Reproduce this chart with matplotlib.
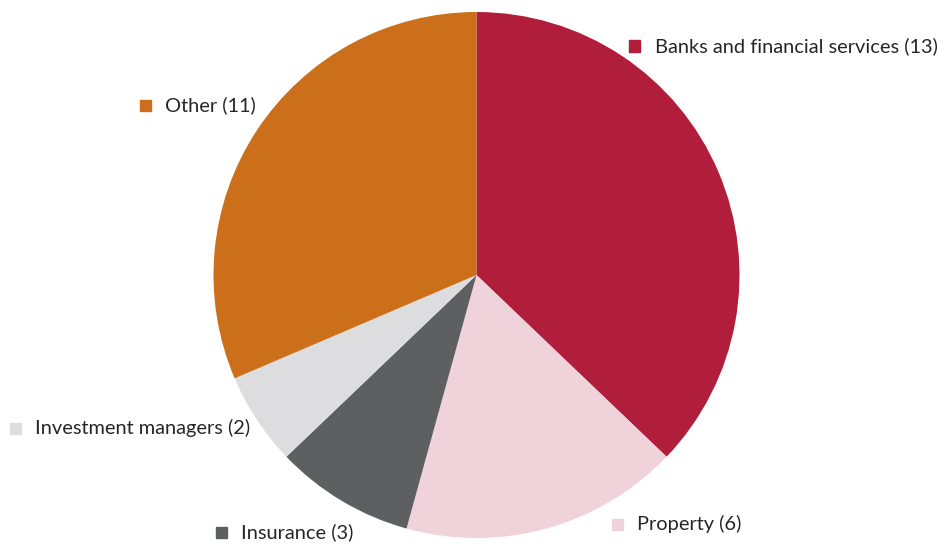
import matplotlib.pyplot as plt

# data
labels = ['Banks and financial services (13)', 'Property (6)', 'Insurance (3)',
          'Investment managers (2)', 'Other (11)']
values = [13, 6, 3, 2, 11]
colors = ['#B01E3C', '#F0D3DA', '#5E5F61', '#DDDDDF', '#CC6F1A']

# label positions in pixels (marker centre x, y from top)
label_px = [(635, 46), (617, 524), (221, 532), (15, 428), (145, 105)]

W, H = 941, 545
fig = plt.figure(figsize=(W / 100, H / 100), dpi=100)

cx, cy, r = 476.5, 275, 263
ax = fig.add_axes([(cx - r) / W, (H - cy - r) / H, 2 * r / W, 2 * r / H])
ax.pie(values, colors=colors, startangle=90, counterclock=False, radius=1,
       wedgeprops=dict(linewidth=0))
ax.set_xlim(-1, 1)
ax.set_ylim(-1, 1)
ax.set_aspect('equal')
ax.axis('off')

for lab, col, (x, y) in zip(labels, colors, label_px):
    fx, fy = x / W, (H - y) / H
    fig.patches.append(plt.Rectangle((fx - 5.5 / W, fy - 5.5 / H), 11 / W, 11 / H,
                                     transform=fig.transFigure, color=col, figure=fig))
    fig.text(fx + 20 / W, fy, lab, fontsize=14.4, family='Lato', color='#262626',
             va='center', ha='left')

fig.savefig('out.png', dpi=100)
